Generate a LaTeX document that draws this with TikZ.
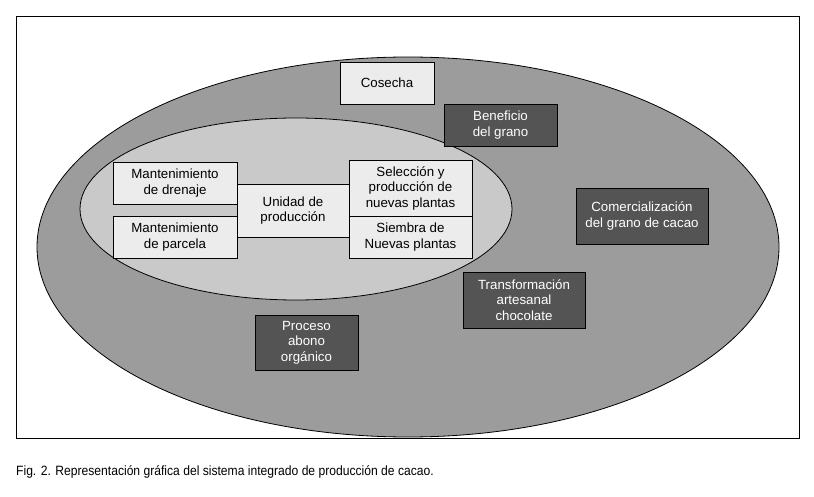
\documentclass[tikz,border=0pt]{standalone}
\usepackage{fontspec}
\setmainfont{Liberation Sans}
\begin{document}
\begin{tikzpicture}[x=1pt,y=-1pt,
  lb/.style={draw=black,fill=gray!15,line width=0.8pt,align=center,font=\fontsize{13.3}{15.5}\selectfont},
  db/.style={draw=black,fill=black!67,text=white,line width=0.8pt,align=center,font=\fontsize{13.3}{15.5}\selectfont}]
\useasboundingbox (0,0) rectangle (814,497);
\draw[line width=1pt] (16,17) rectangle (799,438);
\draw[fill=black!39,line width=0.8pt] (408,247) ellipse [x radius=371, y radius=190];
\draw[fill=black!21,line width=0.8pt] (296,209) ellipse [x radius=216, y radius=91];
\def\bx#1#2#3#4#5#6#7{\node[#1,minimum width=#4-#2,minimum height=#5-#3,inner sep=0pt] (#6) at ({(#2+#4)/2},{(#3+#5)/2}) {#7};}
\bx{lb}{237}{184}{349}{237}{uni}{Unidad de\\producción}
\bx{lb}{113}{162}{237}{204}{dre}{Mantenimiento\\de drenaje}
\bx{lb}{113}{216}{237}{258}{par}{Mantenimiento\\de parcela}
\bx{lb}{349}{160}{472}{216}{sel}{Selección y\\producción de\\nuevas plantas}
\bx{lb}{349}{216}{472}{258}{sie}{Siembra de\\Nuevas plantas}
\bx{lb}{340}{62}{434}{104}{cos}{Cosecha}
\bx{db}{444}{104}{557}{146}{ben}{Beneficio\\del grano}
\bx{db}{576}{188}{708}{244}{com}{Comercialización\\del grano de cacao}
\bx{db}{463}{272}{585}{328}{tra}{Transformación\\artesanal\\chocolate}
\bx{db}{255}{315}{358}{370}{pro}{Proceso\\abono\\orgánico}
\node[anchor=west,inner sep=0pt,font=\fontsize{13.5}{15}\selectfont,xscale=0.897] (cap) at (16,472) {Fig. 2. Representación gráfica del sistema integrado de producción de cacao.};
\end{tikzpicture}
\end{document}
